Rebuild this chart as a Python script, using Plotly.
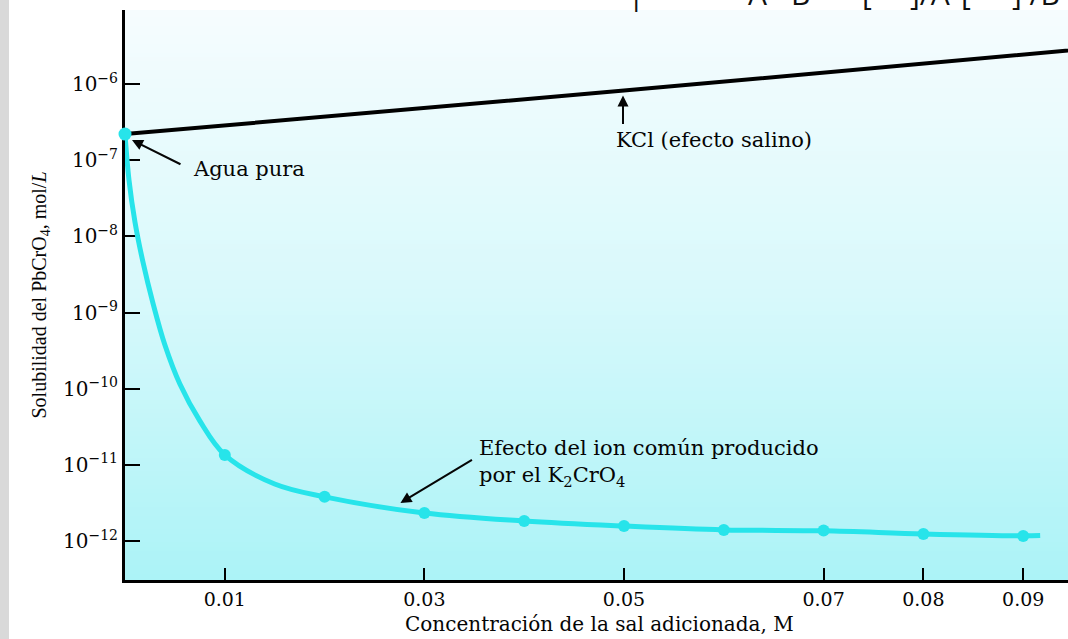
import base64, struct, zlib
import plotly.graph_objects as go

# ---------------- data ----------------
kcl_x = [0.0, 0.05, 0.10]
kcl_y = [2.2e-7, 8.2e-7, 3.2e-6]

k2cro4_curve_x = [0.0, 0.0004, 0.001, 0.0018, 0.0028, 0.004, 0.0055, 0.0075, 0.01,
                  0.015, 0.02, 0.03, 0.04, 0.05, 0.06, 0.07, 0.08, 0.09, 0.0917]
k2cro4_curve_y = [2.2e-7, 5.5e-8, 1.54e-8, 4.6e-9, 1.33e-9, 3.74e-10, 1.15e-10, 3.77e-11, 1.35e-11,
                  5.6e-12, 3.8e-12, 2.33e-12, 1.83e-12, 1.57e-12, 1.40e-12, 1.36e-12, 1.24e-12, 1.17e-12, 1.18e-12]

pts_x = [0.01, 0.02, 0.03, 0.04, 0.05, 0.06, 0.07, 0.08, 0.09]
pts_y = [1.35e-11, 3.8e-12, 2.33e-12, 1.83e-12, 1.57e-12, 1.39e-12, 1.37e-12, 1.24e-12, 1.16e-12]

pure_x = [0.0]
pure_y = [2.2e-7]

x_tickvals = [0.01, 0.03, 0.05, 0.07, 0.08, 0.09]
x_ticktext = ["0.01", "0.03", "0.05", "0.07", "0.08", "0.09"]
y_tickvals = [1e-6, 1e-7, 1e-8, 1e-9, 1e-10, 1e-11, 1e-12]
y_ticktext = ["10<sup>\u22126</sup>", "10<sup>\u22127</sup>", "10<sup>\u22128</sup>", "10<sup>\u22129</sup>",
              "10<sup>\u221210</sup>", "10<sup>\u221211</sup>", "10<sup>\u221212</sup>"]

# ---------------- styling ----------------
W, H = 1068, 639
ML, MR, MT, MB = 125, 0, 10, 59
PW, PH = W - ML - MR, H - MT - MB
CYAN = "#27e4ea"
SERIF = "DejaVu Serif"
INK = "#050505"


def gradient_png(stops, n=128):
    rows = []
    for i in range(n):
        t = i / (n - 1)
        for j in range(len(stops) - 1):
            t0, c0 = stops[j]
            t1, c1 = stops[j + 1]
            if t0 <= t <= t1:
                f = (t - t0) / (t1 - t0) if t1 > t0 else 0
                c = [round(c0[k] + (c1[k] - c0[k]) * f) for k in range(3)]
                break
        rows.append(b"\x00" + bytes(c) * 2)
    raw = b"".join(rows)

    def chunk(tag, data):
        return struct.pack(">I", len(data)) + tag + data + struct.pack(">I", zlib.crc32(tag + data) & 0xffffffff)

    png = (b"\x89PNG\r\n\x1a\n" + chunk(b"IHDR", struct.pack(">IIBBBBB", 2, n, 8, 2, 0, 0, 0))
           + chunk(b"IDAT", zlib.compress(raw)) + chunk(b"IEND", b""))
    return "data:image/png;base64," + base64.b64encode(png).decode()


bg = gradient_png([(0.0, (246, 252, 254)), (0.5, (216, 249, 251)), (1.0, (172, 243, 247))])

fig = go.Figure()
fig.add_trace(go.Scatter(x=kcl_x, y=kcl_y, mode="lines", line=dict(color="black", width=4),
                         hoverinfo="skip", cliponaxis=False))
fig.add_trace(go.Scatter(x=k2cro4_curve_x, y=k2cro4_curve_y, mode="lines",
                         line=dict(color=CYAN, width=5, shape="spline", smoothing=1.0),
                         hoverinfo="skip", cliponaxis=False))
fig.add_trace(go.Scatter(x=pts_x, y=pts_y, mode="markers", marker=dict(color=CYAN, size=12),
                         hoverinfo="skip", cliponaxis=False))
fig.add_trace(go.Scatter(x=pure_x, y=pure_y, mode="markers", marker=dict(color=CYAN, size=13),
                         hoverinfo="skip", cliponaxis=False))

font = dict(family=SERIF, size=21, color=INK)
tfont = dict(family=SERIF, size=19, color=INK)

ann = []
# arrows
ann.append(dict(x=0.0007, y=-6.735, xref="x", yref="y", text="", showarrow=True, ax=50, ay=25,
                arrowhead=2, arrowsize=1.1, arrowwidth=2, arrowcolor=INK))
ann.append(dict(x=0.0499, y=-6.15, xref="x", yref="y", text="", showarrow=True, ax=0, ay=30,
                arrowhead=2, arrowsize=1.1, arrowwidth=2, arrowcolor=INK))
ann.append(dict(x=0.0276, y=-11.50, xref="x", yref="y", text="", showarrow=True, ax=73, ay=-44,
                arrowhead=2, arrowsize=1.1, arrowwidth=2, arrowcolor=INK))
# labels
ann.append(dict(x=0.0066, y=-7.116, xref="x", yref="y", text="Agua pura", showarrow=False,
                xanchor="left", yanchor="middle", font=font))
ann.append(dict(x=0.049, y=-6.735, xref="x", yref="y", text="KCl (efecto salino)", showarrow=False,
                xanchor="left", yanchor="middle", font=font))
ann.append(dict(x=0.0353, y=-10.976, xref="x", yref="y",
                text="Efecto del ion común producido<br>por el K<sub>2</sub>CrO<sub>4</sub>",
                showarrow=False, xanchor="left", yanchor="middle", align="left", font=font))
# x axis title
ann.append(dict(x=(599 - ML) / PW, y=-(624 - MT - PH) / PH, xref="paper", yref="paper",
                text="Concentración de la sal adicionada, M", showarrow=False,
                xanchor="center", yanchor="middle", font=dict(family=SERIF, size=20, color=INK)))
# cropped text fragments at top edge
frag_font = dict(family="Open Sans", size=30, color="#111111")
for txt, px in [("|", 636), ("A", 757), ("B", 800), ("[", 867), ("]/A", 930), ("[", 966), ("] /B", 1036)]:
    ann.append(dict(x=(px - ML) / PW, y=1, xref="paper", yref="paper", text=txt, showarrow=False,
                    xanchor="center", yanchor="bottom", yshift=-6, font=frag_font))

fig.update_layout(
    width=W, height=H,
    margin=dict(l=ML, r=MR, t=MT, b=MB, pad=0),
    paper_bgcolor="white",
    plot_bgcolor="rgba(0,0,0,0)",
    showlegend=False,
    images=[dict(source=bg, xref="paper", yref="paper", x=0, y=1, sizex=1, sizey=1,
                 sizing="stretch", xanchor="left", yanchor="top", layer="below")],
    shapes=[dict(type="rect", xref="paper", yref="paper", x0=-ML / PW, x1=-(ML - 9) / PW,
                 y0=-MB / PH, y1=1 + MT / PH, fillcolor="#d9d9d9", line=dict(width=0), layer="below")],
    annotations=ann,
    xaxis=dict(range=[0, PW / 9980.0], tickvals=x_tickvals, ticktext=x_ticktext,
               showgrid=False, zeroline=False, showline=True, linecolor="black", linewidth=3,
               ticks="inside", ticklen=12, tickwidth=2, tickcolor="black",
               tickfont=tfont, layer="below traces", fixedrange=True),
    yaxis=dict(type="log", range=[-12.512, -5.028], tickvals=y_tickvals, ticktext=y_ticktext,
               showgrid=False, zeroline=False, showline=True, linecolor="black", linewidth=3,
               ticks="inside", ticklen=15, tickwidth=2, tickcolor="black",
               tickfont=dict(family=SERIF, size=20, color=INK), layer="below traces", fixedrange=True,
               title=dict(text="Solubilidad del PbCrO<sub>4</sub>, mol/<i>L</i>",
                          font=dict(family="Liberation Serif", size=20, color=INK), standoff=12)),
)

fig.write_html("out.html", config={"displayModeBar": False, "staticPlot": True},
               post_script="document.body.style.margin='0px';document.body.style.overflow='hidden';")
